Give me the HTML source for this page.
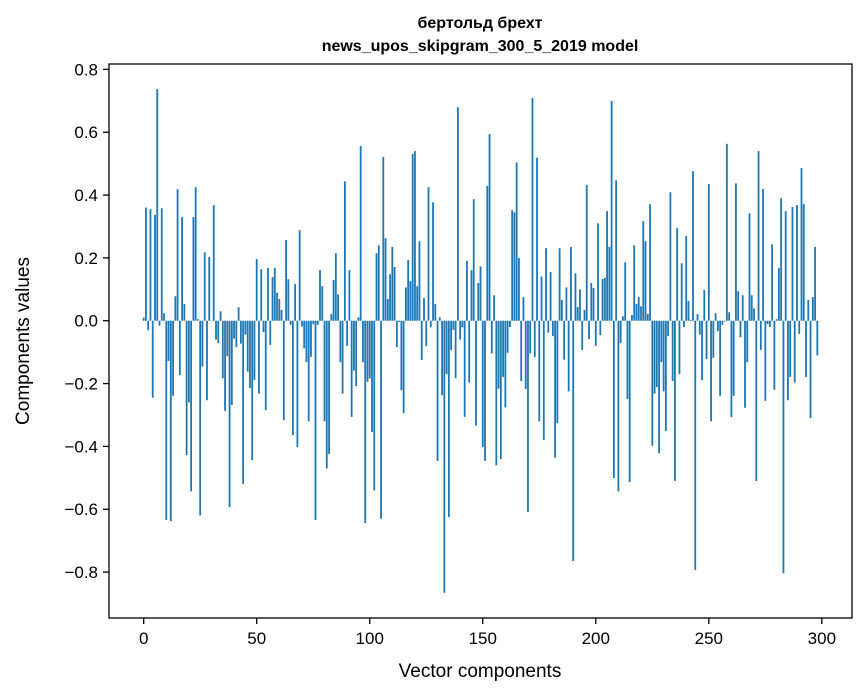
<!DOCTYPE html>
<html><head><meta charset="utf-8">
<style>
html,body{margin:0;padding:0;background:#fff;}
svg{display:block;font-family:"Liberation Sans","DejaVu Sans",sans-serif;}
</style></head>
<body>
<svg id="chart" width="867" height="696" viewBox="0 0 867 696" xmlns="http://www.w3.org/2000/svg">
<rect width="867" height="696" fill="#fff"/>
<text x="480" y="28" text-anchor="middle" font-size="16" font-weight="bold">бертольд брехт</text>
<text x="480" y="51" text-anchor="middle" font-size="16" font-weight="bold">news_upos_skipgram_300_5_2019 model</text>
<g id="bars"></g>
<g id="axes"></g>
<text x="480" y="677" text-anchor="middle" font-size="19">Vector components</text>
<text x="0" y="0" text-anchor="middle" font-size="19" transform="translate(29,341) rotate(-90)">Components values</text>
</svg>
<script>
const values = [
0.01,0.36,-0.03,0.355,-0.245,0.337,0.737,-0.016,0.358,0.024,
-0.634,-0.128,-0.638,-0.239,0.078,0.419,-0.173,0.33,0.053,-0.428,
-0.26,-0.543,0.33,0.425,0.005,-0.62,-0.145,0.218,-0.253,0.203,
0.0,0.368,-0.06,-0.071,0.03,-0.183,-0.287,-0.113,-0.593,-0.268,
-0.057,-0.084,0.043,-0.073,
-0.52,-0.044,-0.162,-0.214,-0.444,-0.189,0.196,-0.232,0.164,-0.036,
-0.285,0.168,-0.077,0.139,0.168,0.089,0.069,0.034,-0.317,0.257,
0.132,-0.013,-0.364,0.117,-0.402,0.288,-0.018,-0.088,-0.132,-0.32,
-0.115,-0.011,-0.634,-0.013,0.161,0.11,-0.32,-0.47,-0.424,0.021,
0.13,0.215,0.084,
-0.132,-0.232,0.444,-0.08,0.161,-0.306,-0.159,-0.208,0.011,0.556,
-0.132,-0.644,-0.194,-0.184,-0.354,-0.54,0.215,0.24,-0.63,0.521,
0.263,0.069,0.148,0.235,0.171,-0.084,-0.004,-0.221,-0.294,0.106,
0.193,0.126,0.531,0.54,0.11,0.253,-0.125,0.072,-0.081,0.425,
-0.021,0.377,0.053,
-0.446,0.011,-0.237,-0.866,-0.17,-0.625,-0.093,-0.029,-0.183,0.68,
-0.06,-0.021,-0.306,0.19,-0.197,0.161,0.387,-0.334,0.12,0.173,
-0.402,-0.446,0.429,0.594,-0.104,0.081,-0.46,-0.216,-0.44,-0.179,
-0.276,-0.102,-0.02,0.352,0.345,0.504,0.2,-0.192,0.075,-0.217,
-0.609,-0.104,0.709,
-0.116,0.519,-0.32,0.141,-0.38,0.231,-0.038,0.155,-0.049,-0.436,
-0.326,0.231,0.066,-0.124,0.106,-0.225,0.235,-0.765,0.151,0.043,
0.1,-0.093,0.034,0.432,-0.058,0.12,0.104,-0.08,0.31,-0.046,
0.133,0.136,0.349,0.235,0.7,-0.501,0.447,-0.543,-0.071,0.014,
0.186,-0.249,-0.513,
0.018,0.24,0.053,0.075,0.046,0.317,0.253,0.021,0.371,
-0.398,-0.232,-0.211,-0.422,-0.132,-0.225,-0.351,-0.049,0.409,-0.192,
-0.51,0.295,-0.17,0.183,-0.02,0.27,0.063,0.003,0.476,-0.793,
0.021,-0.044,-0.189,0.098,-0.122,0.435,-0.32,-0.118,0.024,-0.033,
-0.239,-0.013,-0.003,0.563,0.027,
-0.307,-0.239,0.437,0.094,-0.053,0.081,-0.277,-0.132,0.342,0.081,
0.039,-0.51,0.54,-0.093,0.419,-0.255,-0.011,-0.02,0.243,-0.22,
0.005,0.168,0.39,-0.804,0.349,-0.253,-0.179,0.362,-0.197,0.368,
-0.042,0.486,0.371,-0.179,0.066,-0.31,0.075,0.235,-0.11
];
const xTicks = [0,50,100,150,200,250,300];
const yTicks = [-0.8,-0.6,-0.4,-0.2,0.0,0.2,0.4,0.6,0.8];

const NS = "http://www.w3.org/2000/svg";
const L = 109, R = 852, T = 64, B = 618;
const n = values.length;
const xmin = -0.4 - 0.05 * (n - 1 + 0.8), xmax = (n - 1) + 0.4 + 0.05 * (n - 1 + 0.8);
const vmin = Math.min(0, ...values), vmax = Math.max(0, ...values);
const ymin = vmin - 0.05 * (vmax - vmin), ymax = vmax + 0.05 * (vmax - vmin);
const xs = v => L + (v - xmin) / (xmax - xmin) * (R - L);
const ys = v => B - (v - ymin) / (ymax - ymin) * (B - T);

const bars = document.getElementById('bars');
values.forEach((v, i) => {
  const r = document.createElementNS(NS, 'rect');
  const x0 = xs(i - 0.4), x1 = xs(i + 0.4);
  const y0 = ys(Math.max(v, 0)), y1 = ys(Math.min(v, 0));
  r.setAttribute('x', x0);
  r.setAttribute('width', x1 - x0);
  r.setAttribute('y', y0);
  r.setAttribute('height', Math.max(y1 - y0, 0.3));
  r.setAttribute('fill', '#1f77b4');
  
  
  bars.appendChild(r);
});

const axes = document.getElementById('axes');
const frame = document.createElementNS(NS, 'rect');
frame.setAttribute('x', L); frame.setAttribute('y', T);
frame.setAttribute('width', R - L); frame.setAttribute('height', B - T);
frame.setAttribute('fill', 'none'); frame.setAttribute('stroke', '#000'); frame.setAttribute('stroke-width', '1.3');


axes.appendChild(frame);

xTicks.forEach(t => {
  const x = xs(t);
  const l = document.createElementNS(NS, 'line');
  l.setAttribute('x1', x); l.setAttribute('x2', x);
  l.setAttribute('y1', B); l.setAttribute('y2', B + 6);
  l.setAttribute('stroke', '#000'); l.setAttribute('stroke-width', '1.3');
  
  
  axes.appendChild(l);
  const tx = document.createElementNS(NS, 'text');
  tx.setAttribute('x', x); tx.setAttribute('y', B + 26);
  tx.setAttribute('text-anchor', 'middle'); tx.setAttribute('font-size', '17');
  tx.textContent = String(t);
  
  
  axes.appendChild(tx);
});
yTicks.forEach(t => {
  const y = ys(t);
  const l = document.createElementNS(NS, 'line');
  l.setAttribute('x1', L - 6); l.setAttribute('x2', L);
  l.setAttribute('y1', y); l.setAttribute('y2', y);
  l.setAttribute('stroke', '#000'); l.setAttribute('stroke-width', '1.3');
  
  
  axes.appendChild(l);
  const tx = document.createElementNS(NS, 'text');
  tx.setAttribute('x', L - 11); tx.setAttribute('y', y + 6);
  tx.setAttribute('text-anchor', 'end'); tx.setAttribute('font-size', '17');
  tx.textContent = (t < 0 ? '\u2212' : '') + Math.abs(t).toFixed(1);
  
  
  axes.appendChild(tx);
});
</script>
</body></html>
